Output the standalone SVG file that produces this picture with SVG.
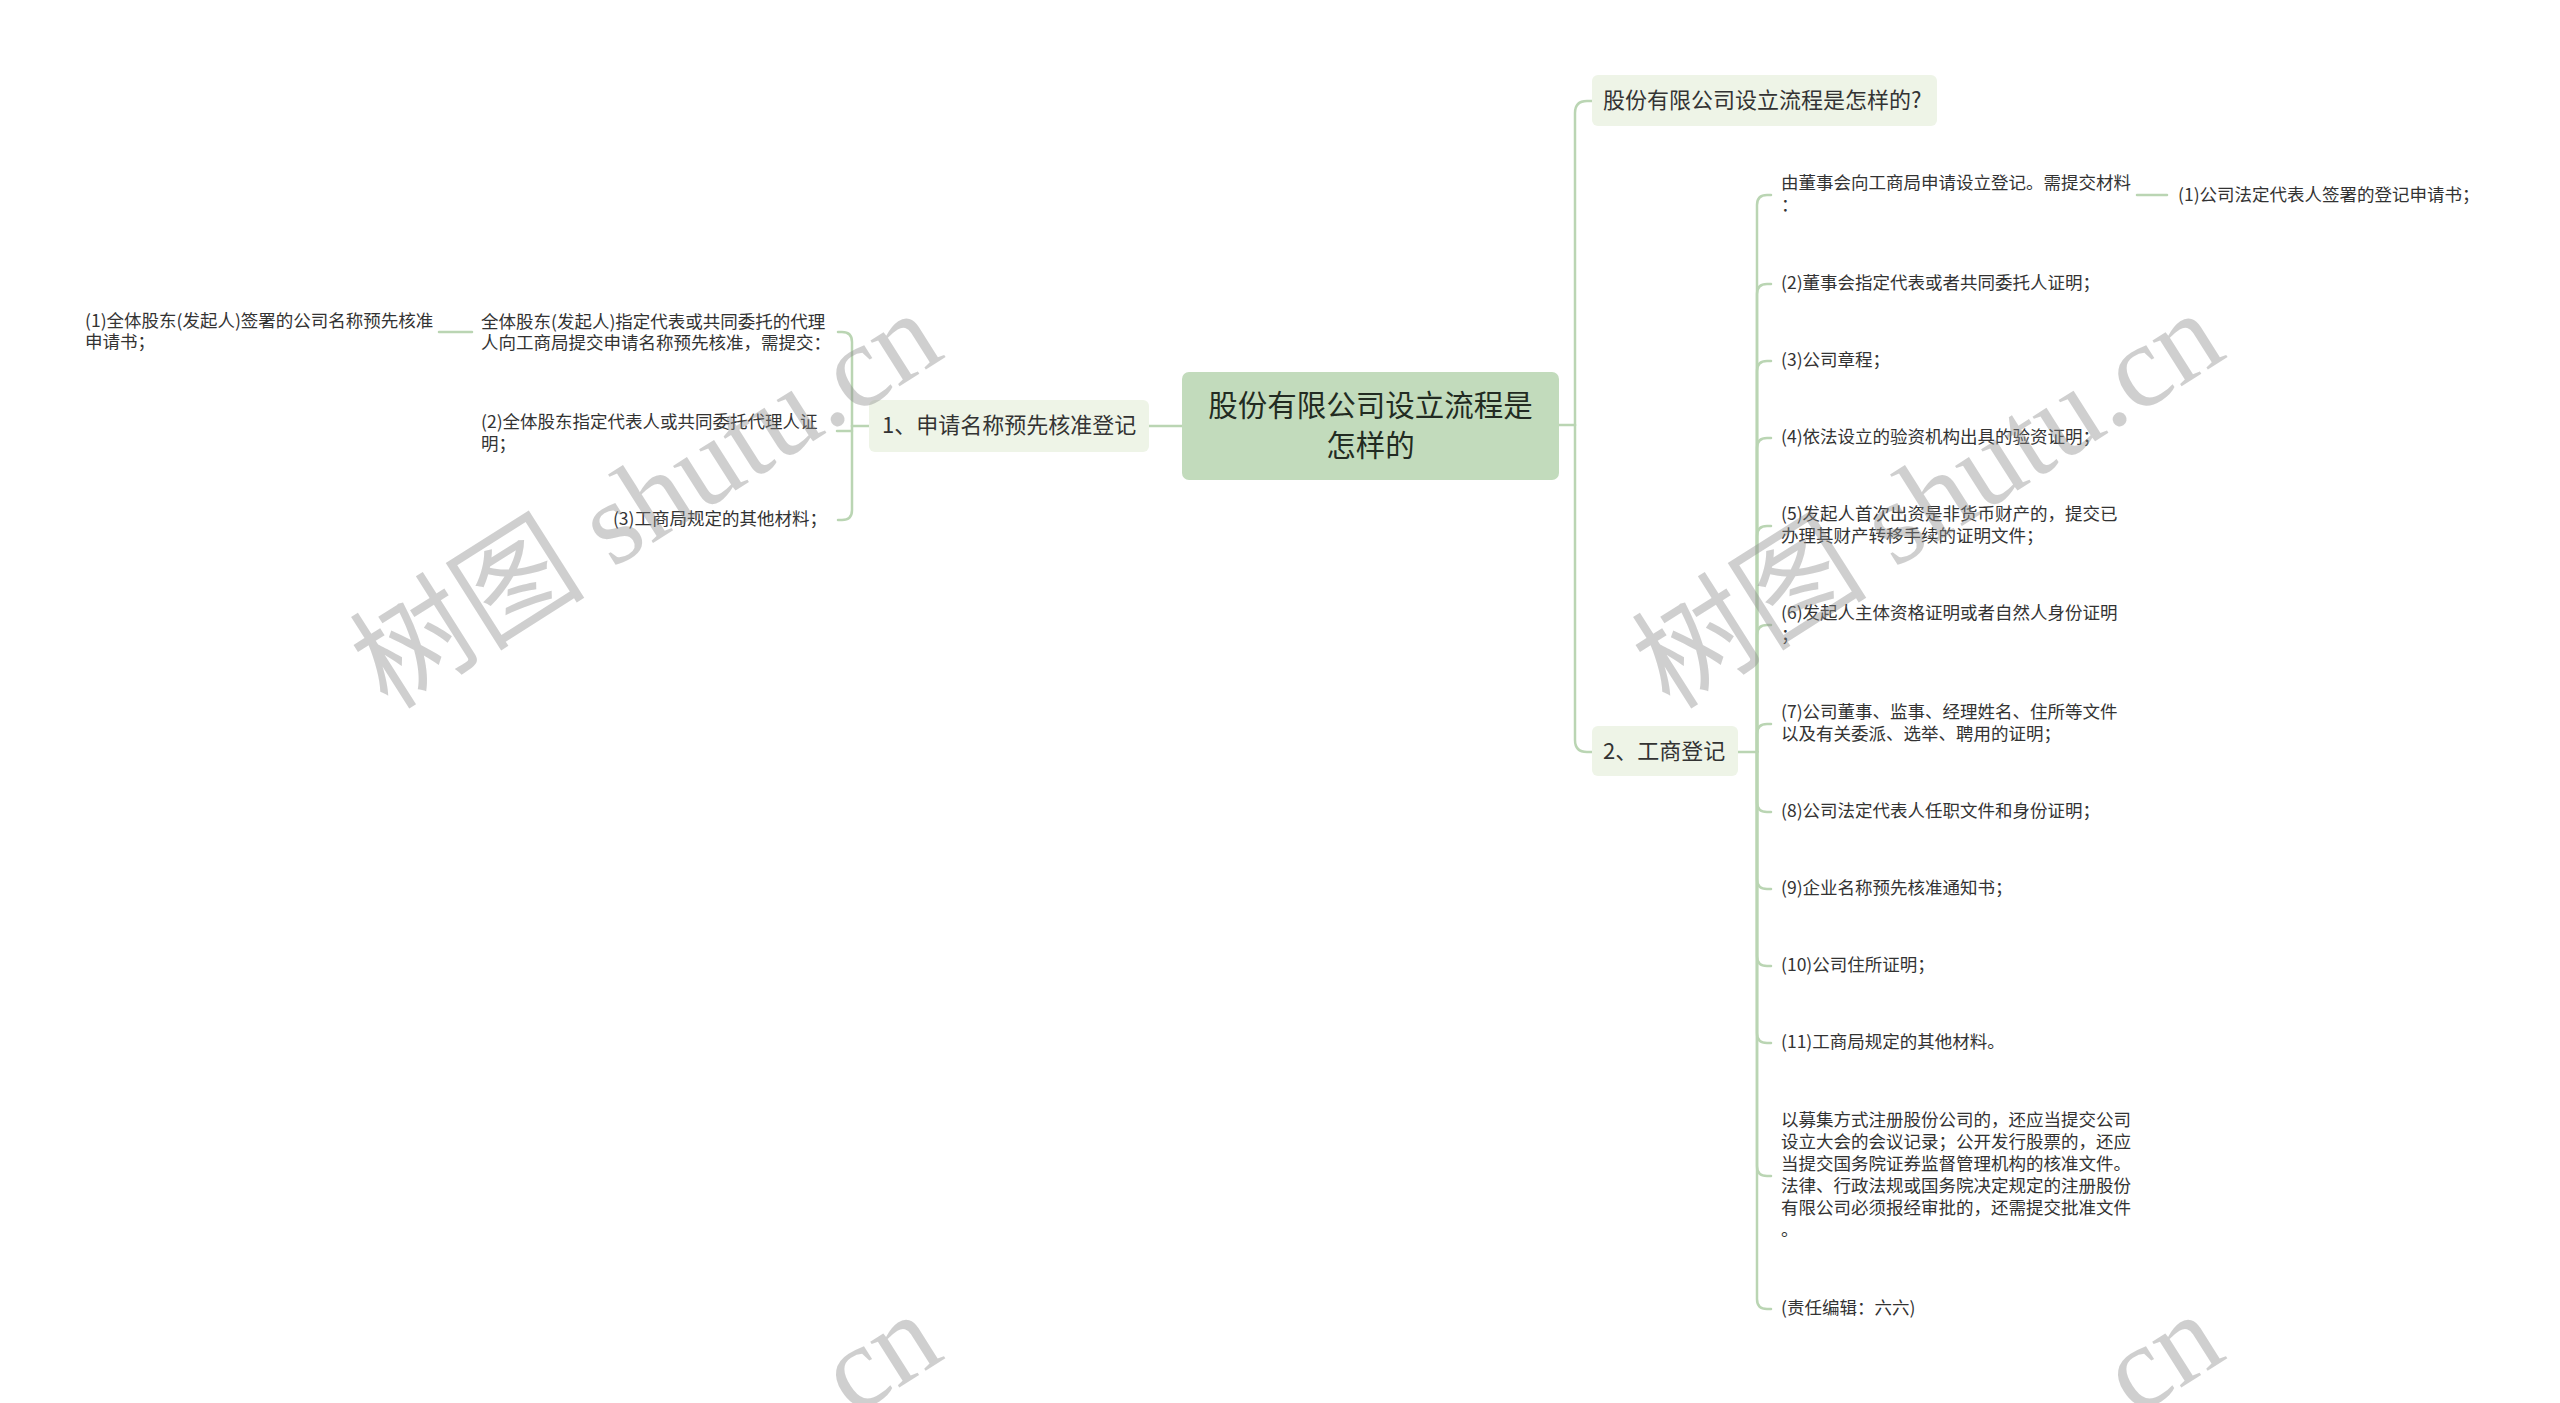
<svg xmlns="http://www.w3.org/2000/svg" width="2560" height="1403" viewBox="0 0 2560 1403">
<style>
.bg{fill:#ffffff}
.ln{fill:none;stroke:#bad5b3;stroke-width:2.5;stroke-linecap:round}
.t{font-family:"Noto Sans CJK SC","Noto Sans",sans-serif;fill:#333333;dominant-baseline:central}
.s{font-size:17.5px}
.m{font-size:22px}
.r{font-size:29.5px;fill:#222b22}
.root{fill:#c2dbbc}
.l1{fill:#eef4e7}
.wm{font-family:"Liberation Serif","Noto Sans CJK SC",serif;font-size:118px;fill:#8a8a8a;opacity:0.4}
</style>
<rect class="bg" x="0" y="0" width="2560" height="1403"/>
<g id="connectors">
<path class="ln" d="M1182,426 H1149"/>
<path class="ln" d="M869,426 H852"/>
<path class="ln" d="M852,426 V342 Q852,332 842,332 H838"/>
<path class="ln" d="M852,431 H837"/>
<path class="ln" d="M852,426 V510 Q852,520 842,520 H838"/>
<path class="ln" d="M472,332 H439"/>
<path class="ln" d="M1559,425 H1575"/>
<path class="ln" d="M1575,425 V113 Q1575,101 1587,101 H1592"/>
<path class="ln" d="M1575,425 V740 Q1575,752 1587,752 H1592"/>
<path class="ln" d="M1738,752 H1757"/>
<path class="ln" d="M1757,752 V205 Q1757,195 1767,195 H1771"/>
<path class="ln" d="M1757,752 V294 Q1757,284 1767,284 H1771"/>
<path class="ln" d="M1757,752 V371 Q1757,361 1767,361 H1771"/>
<path class="ln" d="M1757,752 V448 Q1757,438 1767,438 H1771"/>
<path class="ln" d="M1757,752 V536 Q1757,526 1767,526 H1771"/>
<path class="ln" d="M1757,752 V635 Q1757,625 1767,625 H1771"/>
<path class="ln" d="M1757,752 V734 Q1757,724 1767,724 H1771"/>
<path class="ln" d="M1757,752 V802 Q1757,812 1767,812 H1771"/>
<path class="ln" d="M1757,752 V879 Q1757,889 1767,889 H1771"/>
<path class="ln" d="M1757,752 V956 Q1757,966 1767,966 H1771"/>
<path class="ln" d="M1757,752 V1033 Q1757,1043 1767,1043 H1771"/>
<path class="ln" d="M1757,752 V1166 Q1757,1176 1767,1176 H1771"/>
<path class="ln" d="M1757,752 V1299 Q1757,1309 1767,1309 H1771"/>
<path class="ln" d="M2137,195 H2167"/>
</g>
<g id="root">
<rect class="root" x="1182" y="372" width="377" height="108" rx="7"/>
<text class="t r" x="1370.5" y="403" text-anchor="middle">股份有限公司设立流程是</text>
<text class="t r" x="1370.5" y="443" text-anchor="middle">怎样的</text>
</g>
<g id="n-left1">
<rect class="l1" x="869" y="400" width="280" height="52" rx="6"/>
<text class="t m" x="882" y="423">1、申请名称预先核准登记</text>
</g>
<g id="n-left1-a">
<text class="t s" x="481" y="320">全体股东(发起人)指定代表或共同委托的代理</text>
<text class="t s" x="481" y="341">人向工商局提交申请名称预先核准，需提交：</text>
</g>
<g id="n-left1-a1">
<text class="t s" x="85" y="319">(1)全体股东(发起人)签署的公司名称预先核准</text>
<text class="t s" x="85" y="340">申请书；</text>
</g>
<g id="n-left1-b">
<text class="t s" x="481" y="420">(2)全体股东指定代表人或共同委托代理人证</text>
<text class="t s" x="481" y="442">明；</text>
</g>
<g id="n-left1-c">
<text class="t s" x="827" y="517" text-anchor="end">(3)工商局规定的其他材料；</text>
</g>
<g id="n-q">
<rect class="l1" x="1592" y="75" width="345" height="51" rx="6"/>
<text class="t m" x="1603" y="98">股份有限公司设立流程是怎样的?</text>
</g>
<g id="n-reg">
<rect class="l1" x="1592" y="726" width="146" height="50" rx="6"/>
<text class="t m" x="1603" y="749">2、工商登记</text>
</g>
<g id="n-r0">
<text class="t s" x="1781" y="181">由董事会向工商局申请设立登记。需提交材料</text>
<text class="t s" x="1781" y="203">：</text>
</g>
<g id="n-r0a">
<text class="t s" x="2178" y="193">(1)公司法定代表人签署的登记申请书；</text>
</g>
<g id="n-r2"><text class="t s" x="1781" y="281">(2)董事会指定代表或者共同委托人证明；</text></g>
<g id="n-r3"><text class="t s" x="1781" y="358">(3)公司章程；</text></g>
<g id="n-r4"><text class="t s" x="1781" y="435">(4)依法设立的验资机构出具的验资证明；</text></g>
<g id="n-r5">
<text class="t s" x="1781" y="512">(5)发起人首次出资是非货币财产的，提交已</text>
<text class="t s" x="1781" y="534">办理其财产转移手续的证明文件；</text>
</g>
<g id="n-r6">
<text class="t s" x="1781" y="611">(6)发起人主体资格证明或者自然人身份证明</text>
<text class="t s" x="1781" y="633">；</text>
</g>
<g id="n-r7">
<text class="t s" x="1781" y="710">(7)公司董事、监事、经理姓名、住所等文件</text>
<text class="t s" x="1781" y="732">以及有关委派、选举、聘用的证明；</text>
</g>
<g id="n-r8"><text class="t s" x="1781" y="809">(8)公司法定代表人任职文件和身份证明；</text></g>
<g id="n-r9"><text class="t s" x="1781" y="886">(9)企业名称预先核准通知书；</text></g>
<g id="n-r10"><text class="t s" x="1781" y="963">(10)公司住所证明；</text></g>
<g id="n-r11"><text class="t s" x="1781" y="1040">(11)工商局规定的其他材料。</text></g>
<g id="n-r12">
<text class="t s" x="1781" y="1118">以募集方式注册股份公司的，还应当提交公司</text>
<text class="t s" x="1781" y="1140">设立大会的会议记录；公开发行股票的，还应</text>
<text class="t s" x="1781" y="1162">当提交国务院证券监督管理机构的核准文件。</text>
<text class="t s" x="1781" y="1184">法律、行政法规或国务院决定规定的注册股份</text>
<text class="t s" x="1781" y="1206">有限公司必须报经审批的，还需提交批准文件</text>
<text class="t s" x="1781" y="1228">。</text>
</g>
<g id="n-r13"><text class="t s" x="1781" y="1306">(责任编辑：六六)</text></g>
<g id="watermark">
<text class="wm" transform="translate(388,711) rotate(-32.4)">树图 shutu.cn</text>
<text class="wm" transform="translate(1670,711) rotate(-32.4)">树图 shutu.cn</text>
<text class="wm" transform="translate(388,1712) rotate(-32.4)" x="521">.cn</text>
<text class="wm" transform="translate(1670,1712) rotate(-32.4)" x="521">.cn</text>
</g>
</svg>
